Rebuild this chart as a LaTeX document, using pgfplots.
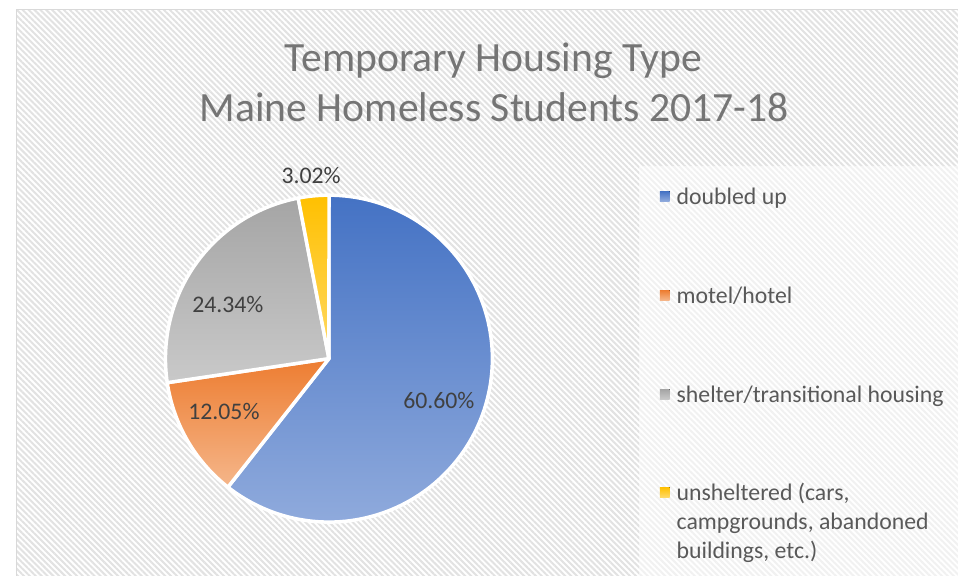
\documentclass[border=0pt]{standalone}
\usepackage{fontspec}
\setmainfont{Carlito}
\usepackage{pgfplots}
\pgfplotsset{compat=1.18}
\usepackage{pgfplotstable}
\usetikzlibrary{patterns.meta}
\definecolor{blueTop}{HTML}{4472C4}
\definecolor{blueBot}{HTML}{8FAADC}
\definecolor{orangeTop}{HTML}{ED7D31}
\definecolor{orangeBot}{HTML}{F5B68A}
\definecolor{grayTop}{HTML}{A5A5A5}
\definecolor{grayBot}{HTML}{C9C9C9}
\definecolor{yellowTop}{HTML}{FFC000}
\definecolor{yellowBot}{HTML}{FFD966}
\definecolor{titlegray}{HTML}{757575}
\definecolor{labelgray}{HTML}{404040}
\definecolor{legendgray}{HTML}{595959}
\definecolor{hatch}{HTML}{E2E2E2}
\definecolor{hatchlight}{HTML}{F1F1F1}
\definecolor{frame}{HTML}{D9D9D9}
\pgfplotsset{
  sqlegend/.style={legend image code/.code={\fill[##1,draw=none] (0bp,-3bp) rectangle (10bp,7bp);}},
  sqlegendup/.style={legend image code/.code={\fill[##1,draw=none] (0bp,26bp) rectangle (10bp,36bp);}},
}
\begin{document}
\pgfplotstableread{
label value
doubled 60.60
motel 12.05
shelter 24.34
unsheltered 3.02
}\housing
\pgfplotstablegetelem{0}{value}\of\housing \let\vA\pgfplotsretval
\pgfplotstablegetelem{1}{value}\of\housing \let\vB\pgfplotsretval
\pgfplotstablegetelem{2}{value}\of\housing \let\vC\pgfplotsretval
\pgfplotstablegetelem{3}{value}\of\housing \let\vD\pgfplotsretval
\pgfmathsetmacro\aB{3.6*\vA}
\pgfmathsetmacro\aC{\aB+3.6*\vB}
\pgfmathsetmacro\aD{\aC+3.6*\vC}
\pgfmathsetmacro\aE{\aD+3.6*\vD}
\begin{tikzpicture}
\useasboundingbox (0,0) rectangle (958bp,581bp);
\begin{axis}[name=ax, at={(0,0)}, anchor=south west,
  width=958bp, height=581bp, scale only axis,
  xmin=0, xmax=958, ymin=0, ymax=581, y dir=reverse,
  hide axis, clip=false,
  legend cell align=left,
  legend style={at={(axis cs:657,188)}, anchor=north west, draw=none, fill=none,
    inner sep=0pt, outer sep=0pt, row sep=76bp, column sep=7bp,
    font=\fontsize{24bp}{29bp}\selectfont, text=legendgray,
    nodes={inner sep=0pt, text height=18bp, text depth=6bp}},
  sqlegend,
]
% background
\fill[white] (axis cs:0,0) rectangle (axis cs:980,600);
\fill[pattern={Lines[angle=-45,distance=4.2bp,line width=2bp]}, pattern color=hatch]
  (axis cs:8,10) -- (axis cs:980,10) -- (axis cs:980,168) -- (axis cs:636,168)
  -- (axis cs:636,600) -- (axis cs:8,600) -- cycle;
\fill[pattern={Lines[angle=-45,distance=4.2bp,line width=2bp]}, pattern color=hatchlight]
  (axis cs:636,168) rectangle (axis cs:980,600);
\draw[frame, line width=1.2bp] (axis cs:8,600) -- (axis cs:8,10) -- (axis cs:980,10);
% slices
\addplot[draw=white, line width=3.5bp, line join=round, top color=blueTop, bottom color=blueBot,
  domain=0:\aB, samples=120] ({323+165*sin(x)},{362-165*cos(x)}) -- (axis cs:323,362) -- cycle;
\addlegendentry{doubled up}
\addplot[draw=white, line width=3.5bp, line join=round, top color=orangeTop, bottom color=orangeBot,
  domain=\aB:\aC, samples=40] ({323+165*sin(x)},{362-165*cos(x)}) -- (axis cs:323,362) -- cycle;
\addlegendentry{motel/hotel}
\addplot[draw=white, line width=3.5bp, line join=round, top color=grayTop, bottom color=grayBot,
  domain=\aC:\aD, samples=60] ({323+165*sin(x)},{362-165*cos(x)}) -- (axis cs:323,362) -- cycle;
\addlegendentry{shelter/transitional housing}
\addplot[draw=white, line width=3.5bp, line join=round, top color=yellowTop, bottom color=yellowBot,
  domain=\aD:\aE, samples=20, sqlegendup]
  ({323+165*sin(x)},{362-165*cos(x)}) -- (axis cs:323,362) -- cycle;
\addlegendentry[align=left, text height=, text depth=]{unsheltered (cars,\\campgrounds, abandoned\\buildings, etc.)}
% data labels
\begin{scope}[every node/.style={font=\fontsize{24bp}{29bp}\selectfont, text=labelgray, anchor=base, inner sep=0pt}]
\node at (axis cs:434,412) {60.60\%};
\node at (axis cs:217,423) {12.05\%};
\node at (axis cs:221,315) {24.34\%};
\node at (axis cs:305,185) {3.02\%};
\end{scope}
% title
\node[font=\fontsize{42bp}{50bp}\selectfont, text=titlegray, anchor=base, inner sep=0pt] at (axis cs:489,72) {Temporary Housing Type};
\node[font=\fontsize{42bp}{50bp}\selectfont, text=titlegray, anchor=base, inner sep=0pt] at (axis cs:490,123) {Maine Homeless Students 2017-18};
\end{axis}
\end{tikzpicture}
\end{document}
